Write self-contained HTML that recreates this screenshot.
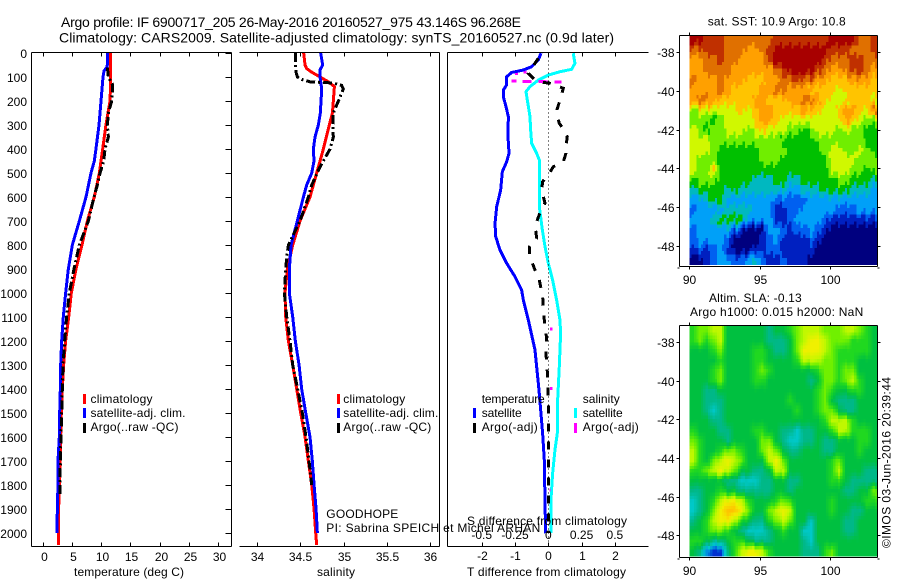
<!DOCTYPE html>
<html>
<head>
<meta charset="utf-8">
<title>Argo profile</title>
<style>
html,body{margin:0;padding:0;background:#fff;}
svg{display:block;}
text{font-family:"Liberation Sans",sans-serif;font-size:12px;fill:#000;}
</style>
</head>
<body>
<svg id="chart" width="900" height="580" viewBox="0 0 900 580" xmlns="http://www.w3.org/2000/svg">
<rect x="0" y="0" width="900" height="580" fill="#fff"/>
<g id="heat-layer"></g>
<g id="line-layer"></g>
<g id="axis-layer"></g>

<text x="61" y="27" style="font-size:14px" textLength="460" lengthAdjust="spacing">Argo profile: IF 6900717_205 26-May-2016 20160527_975 43.146S 96.268E</text>
<text x="59" y="42.5" style="font-size:14px" textLength="555" lengthAdjust="spacing">Climatology: CARS2009. Satellite-adjusted climatology: synTS_20160527.nc (0.9d later)</text>

<text x="74" y="576" textLength="110" lengthAdjust="spacing">temperature (deg C)</text>
<text x="317" y="576" textLength="38" lengthAdjust="spacing">salinity</text>
<text x="467" y="576" textLength="159" lengthAdjust="spacing">T difference from climatology</text>
<text x="467" y="525" textLength="160" lengthAdjust="spacing">S difference from climatology</text>

<g>
<rect x="83" y="394" width="3" height="10" fill="#ff0000"/>
<text x="90.5" y="403" textLength="62" lengthAdjust="spacing">climatology</text>
<rect x="83" y="408" width="3" height="10" fill="#0000ff"/>
<text x="90.5" y="417" textLength="95" lengthAdjust="spacing">satellite-adj. clim.</text>
<rect x="83" y="423" width="3" height="10" fill="#000"/>
<text x="90.5" y="431" textLength="88" lengthAdjust="spacing">Argo(..raw -QC)</text>
</g>
<g>
<rect x="337" y="394" width="3" height="10" fill="#ff0000"/>
<text x="343.3" y="403" textLength="62" lengthAdjust="spacing">climatology</text>
<rect x="337" y="408" width="3" height="10" fill="#0000ff"/>
<text x="343.3" y="417" textLength="95" lengthAdjust="spacing">satellite-adj. clim.</text>
<rect x="337" y="423" width="3" height="10" fill="#000"/>
<text x="343.3" y="431" textLength="88" lengthAdjust="spacing">Argo(..raw -QC)</text>
</g>
<g>
<text x="481.7" y="403" textLength="63" lengthAdjust="spacing">temperature</text>
<rect x="473" y="408" width="3" height="10" fill="#0000ff"/>
<text x="481.7" y="417" textLength="40" lengthAdjust="spacing">satellite</text>
<rect x="473" y="423" width="3" height="10" fill="#000"/>
<text x="481.7" y="431" textLength="56" lengthAdjust="spacing">Argo(-adj)</text>
<text x="582.7" y="403" textLength="37" lengthAdjust="spacing">salinity</text>
<rect x="574" y="408" width="3" height="10" fill="#00ffff"/>
<text x="582.7" y="417" textLength="40" lengthAdjust="spacing">satellite</text>
<rect x="574" y="423" width="3" height="10" fill="#ff00ff"/>
<text x="582.7" y="431" textLength="56" lengthAdjust="spacing">Argo(-adj)</text>
</g>

<text x="326.3" y="518" textLength="72" lengthAdjust="spacing">GOODHOPE</text>
<text x="326.3" y="532" textLength="214" lengthAdjust="spacing">PI: Sabrina SPEICH et Michel ARHAN</text>

<text x="707.7" y="25.5" textLength="138" lengthAdjust="spacing">sat. SST: 10.9 Argo: 10.8</text>
<text x="709" y="302" textLength="92.7" lengthAdjust="spacing">Altim. SLA: -0.13</text>
<text x="690" y="316" textLength="173.3" lengthAdjust="spacing">Argo h1000: 0.015 h2000: NaN</text>
<text transform="translate(890.5 548) rotate(-90)" x="0" y="0" textLength="171" lengthAdjust="spacing">©IMOS 03-Jun-2016 20:39:44</text>
</svg>

<script>
// ---------- profile data ----------
const depthTicks = [0,100,200,300,400,500,600,700,800,900,1000,1100,1200,1300,1400,1500,1600,1700,1800,1900,2000];
const tempTicks = [0,5,10,15,20,25,30];
const salTicks = [34,34.5,35,35.5,36];
const salTickLabels = ['34','34.5','35','35.5','36'];
const tDiffTicks = [-2,-1,0,1,2];
const sDiffTicks = [-0.5,-0.25,0,0.25,0.5];
const sDiffTickLabels = ['-0.5','-0.25','0','0.25','0.5'];

const tempClimDepth = [0,100,130,200,300,400,450,500,600,700,800,900,1000,1100,1200,1300,1400,1500,1600,1700,1800,1900,2000,2050];
const tempClim = [11.56,11.6,11.6,11.5,10.8,10.25,9.96,9.68,8.82,7.63,6.71,5.69,4.89,4.44,3.92,3.58,3.35,3.18,3.07,2.96,2.84,2.72,2.67,2.67];
const tempSatDepth = [0,50,60,75,100,200,300,400,450,500,600,700,800,900,1000,1100,1200,1300,1400,1500,1600,1700,1800,1900,2000];
const tempSat = [11.1,11.05,10.93,10.48,10.3,9.96,9.62,9.1,8.82,8.25,7.4,6.26,5.06,4.38,3.92,3.52,3.24,3.07,3.01,2.9,2.84,2.61,2.61,2.5,2.44];
const tempArgoDepth = [60,100,130,150,200,250,300,350,400,450,500,550,600,700,800,900,1000,1100,1200,1300,1400,1500,1600,1700,1800,1850];
const tempArgo = [11.05,11.22,11.9,11.96,11.79,11.22,11.05,11.22,10.65,10.42,9.8,9.34,8.76,7.8,6.26,5.35,4.55,4.09,3.75,3.47,3.35,3.24,3.12,3.01,2.96,2.96];

const salClimDepth = [0,50,65,80,100,120,140,200,250,300,400,450,500,600,700,800,900,1000,1100,1200,1300,1400,1500,1600,1700,1800,1900,2000,2050];
const salClim = [34.541,34.557,34.576,34.634,34.73,34.826,34.895,34.883,34.872,34.837,34.768,34.73,34.691,34.614,34.499,34.415,34.353,34.326,34.334,34.365,34.415,34.461,34.507,34.557,34.595,34.634,34.661,34.68,34.691];
const salSatDepth = [0,50,70,100,150,250,300,350,400,450,500,550,600,700,800,900,1000,1100,1200,1300,1400,1500,1600,1700,1800,1900,2000];
const salSat = [34.737,34.76,34.73,34.73,34.749,34.733,34.71,34.672,34.653,34.66,34.634,34.576,34.538,34.468,34.396,34.376,34.376,34.415,34.445,34.488,34.518,34.565,34.614,34.641,34.661,34.684,34.699];
const salArgoDepth = [0,50,80,100,110,120,125,135,150,200,250,300,350,400,450,480,550,600,700,800,850,900,1000,1100,1200,1300,1400,1500,1600,1700,1800];
const salArgo = [34.445,34.445,34.453,34.469,34.518,34.614,34.883,34.979,34.998,34.941,34.883,34.876,34.883,34.845,34.768,34.722,34.634,34.595,34.499,34.365,34.346,34.334,34.319,34.346,34.384,34.415,34.472,34.526,34.568,34.603,34.634];

const tDiffSatDepth = [1,29,57,71,81,99,133,154,182,224,265,349,418,453,494,571,640,710,765,821,876,932,988,1029,1112,1237,1404,1585,1696,1862,2001];
const tDiffSat = [-0.22,-0.3,-0.5,-0.75,-1.1,-1.25,-1.25,-1.35,-1.35,-1.27,-1.2,-1.21,-1.18,-1.25,-1.38,-1.43,-1.55,-1.6,-1.58,-1.45,-1.25,-1,-0.8,-0.75,-0.6,-0.4,-0.28,-0.17,-0.12,-0.1,-0.08];
const sDiffSatDepth = [1,43,68,78,92,113,140,161,196,265,321,376,418,446,501,640,736,806,876,946,1029,1112,1168,1307,1446,1585,1654,1751,1862,2001];
const sDiffSat = [0.1875,0.2,0.175,0.0875,0,-0.075,-0.1375,-0.1675,-0.1575,-0.1375,-0.1325,-0.125,-0.0875,-0.0675,-0.0675,-0.0675,-0.045,-0.025,0,0.0325,0.0625,0.0875,0.0925,0.0825,0.07,0.0675,0.05,0.0325,0.02,0.02];
const tDiffArgoDepth = [22,43,85,119,126,147,189,231,251,293,321,349,390,418,453,474,501,536,571,626,647,703,738,772,807,842,904,939,974,1015,1057,1112,1189,1251,1328,1446,1585,1723,1862,2001];
const tDiffArgo = [-0.3,-0.4,-0.6,-0.35,0.05,0.45,0.37,0.27,0.25,0.33,0.47,0.57,0.53,0.53,0.45,0.15,0.03,-0.17,-0.2,-0.1,-0.2,-0.35,-0.38,-0.35,-0.57,-0.57,-0.4,-0.28,-0.23,-0.17,-0.15,-0.12,-0.05,-0.07,-0.03,0,0,0,0,0];
const sDiffArgoDepth = [117,119,121,null,78,92,null,74,85,null,1151,1151,null,1397,1397,null,1820,1820];
const sDiffArgo = [-0.275,-0.1,0.1,null,-0.2375,-0.2375,null,-0.175,-0.175,null,0.0125,0.0325,null,0.0125,0.0325,null,0.01,0.015];

// ---------- map data ----------
const lonTicks = [90,95,100];
const latTicks = [-38,-40,-42,-44,-46,-48];
const sstLevels = [
[12,12,11,11,11,10,10,10,10,10,10,10,11,11,11,11,11,11,11,11,12,12,12,12,10,10,11],
[10,10,11,11,11,10,10,10,9,9,10,11,12,12,12,12,12,12,12,12,11,11,11,10,10,10,11],
[9,9,10,10,11,10,10,9,9,9,9,11,12,12,12,12,12,12,12,11,10,10,10,11,11,10,10],
[9,9,10,10,10,10,9,9,9,9,9,9,10,11,12,12,12,12,11,10,9,9,10,11,11,10,9],
[10,9,9,9,10,9,9,9,8,8,8,9,9,10,10,11,10,10,9,9,8,8,8,9,9,9,8],
[9,9,9,9,10,9,8,8,8,8,9,9,10,10,9,9,9,8,8,8,8,7,8,8,8,8,8],
[9,10,10,9,8,8,8,8,8,9,9,8,8,8,9,9,10,10,9,8,7,7,7,8,8,8,7],
[6,7,7,7,7,7,7,8,7,8,9,9,8,8,8,8,9,8,8,7,7,8,9,9,8,7,10],
[6,6,6,5,6,7,7,7,7,8,9,9,8,7,7,7,7,7,7,7,7,7,9,8,7,6,6],
[7,6,5,6,6,7,7,7,6,7,8,7,7,7,6,6,5,6,7,7,7,6,7,6,6,5,5],
[7,7,7,6,6,6,6,6,6,6,6,6,6,5,5,5,5,5,6,6,6,6,6,6,6,5,5],
[7,7,7,6,5,5,5,5,5,5,6,6,6,6,5,5,5,5,5,6,7,7,6,6,7,6,5],
[7,6,6,6,5,5,5,5,5,5,6,6,6,5,5,5,5,5,5,5,7,7,7,7,6,6,6],
[7,6,6,8,5,5,5,5,5,5,5,5,5,5,5,5,5,5,5,5,7,7,7,6,6,5,6],
[5,6,6,6,5,5,5,5,5,4,4,4,5,5,4,4,5,5,5,5,5,6,6,5,5,5,4],
[4,5,5,5,5,4,5,4,4,4,4,4,4,4,3,3,4,4,4,5,5,5,5,4,4,4,3],
[3,3,4,5,5,3,3,3,3,3,3,3,2,2,2,2,2,3,3,3,3,3,3,3,3,3,3],
[2,3,3,3,3,4,4,4,4,3,3,3,1,1,2,2,3,3,3,3,3,2,2,2,3,3,3],
[3,3,3,4,5,5,5,5,3,3,3,3,1,1,2,3,3,3,3,2,1,1,1,1,1,1,1],
[2,3,3,3,3,3,2,1,0,0,0,3,3,2,1,2,2,3,2,1,0,0,0,0,0,0,0],
[2,3,3,3,3,2,0,0,0,0,1,2,3,1,1,1,1,2,1,0,0,0,0,0,0,0,0],
[1,2,1,2,3,1,0,0,0,1,1,2,2,1,1,1,1,1,0,0,0,0,0,0,0,0,0],
[0,0,1,2,3,3,2,2,3,4,2,1,1,2,1,1,1,0,0,0,0,0,0,0,0,0,0]
];
const slaLevels = [
[5,6,6,7,7,4,4,4,4,4,4,3,4,4,5,6,7,7,7,6,6,6,7,7,6,5,4],
[5,6,5,6,7,4,4,4,4,4,4,3,3,3,4,6,7,8,8,7,6,6,6,5,5,5,4],
[4,4,4,5,6,4,4,4,4,5,5,4,3,3,4,6,8,8,8,7,6,5,5,5,5,5,4],
[4,4,4,4,5,4,4,4,4,5,5,4,4,4,4,5,7,7,7,6,6,5,5,5,4,4,4],
[4,4,4,5,6,4,4,4,4,5,6,5,4,4,4,4,4,4,5,6,6,5,6,6,4,4,4],
[4,4,4,5,6,4,4,4,4,5,5,4,4,4,4,4,4,3,4,6,6,5,6,7,5,4,4],
[4,4,3,3,4,4,4,4,4,4,4,4,4,4,4,4,4,4,5,6,5,4,4,5,5,4,4],
[4,4,3,3,3,4,4,4,4,4,4,4,4,4,5,4,4,4,5,6,4,3,3,3,4,4,4],
[4,4,3,2,3,4,4,4,4,4,4,4,4,4,4,5,4,4,5,6,6,4,3,3,4,4,4],
[4,4,4,3,3,4,4,4,4,4,4,4,4,4,4,4,4,4,4,5,7,7,7,5,4,4,4],
[5,4,4,4,3,3,4,4,4,5,5,4,4,3,3,2,3,3,4,4,5,7,7,5,5,5,4],
[6,5,4,4,4,3,4,4,4,4,6,6,4,3,2,2,3,3,4,3,3,4,4,4,5,5,4],
[7,5,4,4,5,6,6,5,4,4,6,7,6,4,3,3,4,4,4,3,3,4,4,4,5,4,4],
[7,5,4,6,7,8,7,6,4,4,4,7,8,6,4,4,4,4,4,4,5,6,4,4,4,4,4],
[5,5,6,7,8,7,6,4,4,3,3,4,7,7,4,4,4,4,4,4,5,7,4,4,4,3,3],
[4,4,4,4,4,3,3,2,2,2,3,3,4,4,3,3,4,4,4,4,5,5,4,3,3,3,3],
[3,3,4,4,5,4,4,3,3,3,3,3,4,4,3,4,4,4,4,4,4,4,3,3,4,4,6],
[2,3,4,5,7,8,8,7,5,4,4,4,5,6,5,4,4,4,4,4,5,4,4,4,4,5,5],
[2,3,4,6,8,9,9,8,6,4,4,6,7,8,7,4,4,4,4,4,5,4,4,3,3,4,4],
[3,4,5,7,8,8,7,5,4,3,3,5,6,7,6,4,4,2,4,4,4,4,3,3,4,4,4],
[4,4,5,6,6,5,4,3,2,2,2,3,4,5,4,4,2,2,4,4,4,4,3,3,4,4,4],
[5,5,4,3,3,4,5,5,4,3,3,3,4,4,4,4,3,2,4,4,4,4,4,4,4,4,4],
[4,3,1,0,0,3,5,7,8,8,7,5,4,4,4,4,3,3,3,5,6,4,4,4,4,4,4]
];

// ---------- axis functions ----------
const NS = 'http://www.w3.org/2000/svg';
const yDepth = d => 53 + d * 0.24;
const xTemp = t => 42.7 + t * 5.853;
const xSal = s => 256.7 + (s - 34) * 86.8;
const xTDiff = t => 548.3 + t * 33.3;
const xSDiff = s => 548.3 + s * 133.2;
const xLon = lon => 689.3 + (lon - 90) * 14.1;
const ySstLat = lat => 52.3 + (-38 - lat) * 19.34;
const ySlaLat = lat => 342 + (-38 - lat) * 19.33;

const sstPalette = ['#00007f','#0020c0','#0060f0','#00a0f8','#00b8c0','#00c000','#70ee00','#d0f800','#ffc400','#ffa000','#e07000','#c03000','#a80000'];
const slaPalette = ['#0030d0','#0090e0','#00c8c8','#00b888','#00c040','#20d820','#70f000','#c0f800','#f0f000','#ffc000'];

const heatLayer = document.getElementById('heat-layer');
const lineLayer = document.getElementById('line-layer');
const axisLayer = document.getElementById('axis-layer');

function drawLine(x1, y1, x2, y2, name, stroke) {
  const el = document.createElementNS(NS, 'line');
  
  
  el.setAttribute('x1', x1);
  el.setAttribute('y1', y1);
  el.setAttribute('x2', x2);
  el.setAttribute('y2', y2);
  el.setAttribute('stroke', stroke || '#000');
  el.setAttribute('stroke-width', '1');
  el.setAttribute('shape-rendering', 'crispEdges');
  axisLayer.appendChild(el);
}

function drawLabel(x, y, str, anchor, name) {
  const el = document.createElementNS(NS, 'text');
  
  
  el.setAttribute('x', x);
  el.setAttribute('y', y);
  el.setAttribute('text-anchor', anchor);
  el.textContent = str;
  axisLayer.appendChild(el);
}

function drawSeries(values, depths, xFn, color, dash, name) {
  let d = '';
  let pen = false;
  values.forEach((v, i) => {
    if (v === null) { pen = false; return; }
    d += (pen ? 'L' : 'M') + xFn(v).toFixed(2) + ' ' + yDepth(depths[i]).toFixed(2);
    pen = true;
  });
  const el = document.createElementNS(NS, 'path');
  
  
  el.setAttribute('d', d);
  el.setAttribute('fill', 'none');
  el.setAttribute('stroke', color);
  el.setAttribute('stroke-width', '3');
  el.setAttribute('shape-rendering', 'crispEdges');
  if (dash) el.setAttribute('stroke-dasharray', dash);
  lineLayer.appendChild(el);
}

function sampleLevels(levels, rowPos, colPos) {
  const rows = levels.length;
  const cols = levels[0].length;
  const r = Math.max(0, Math.min(rows - 1, rowPos - 0.5));
  const c = Math.max(0, Math.min(cols - 1, colPos - 0.5));
  const r0 = Math.floor(r), c0 = Math.floor(c);
  const r1 = Math.min(rows - 1, r0 + 1), c1 = Math.min(cols - 1, c0 + 1);
  const fr = r - r0, fc = c - c0;
  return (levels[r0][c0] * (1 - fc) + levels[r0][c1] * fc) * (1 - fr) +
         (levels[r1][c0] * (1 - fc) + levels[r1][c1] * fc) * fr;
}

function paletteColor(palette, v, smooth) {
  const lim = palette.length - 1;
  const t = Math.max(0, Math.min(lim, v));
  if (!smooth) return palette[Math.round(t)];
  const i = Math.min(lim - 1, Math.floor(t));
  const f = t - i;
  const a = parseInt(palette[i].slice(1), 16);
  const b = parseInt(palette[i + 1].slice(1), 16);
  const mix = s => Math.round(((a >> s) & 255) * (1 - f) + ((b >> s) & 255) * f);
  return 'rgb(' + mix(16) + ',' + mix(8) + ',' + mix(0) + ')';
}

function drawHeatmap(levels, palette, yLat, latTop, latBottom, lonEnd, smooth, jag, name) {
  const rows = levels.length;
  const cols = levels[0].length;
  const sub = 3;
  for (let i = 0; i < rows * sub; i++) {
    for (let j = 0; j < cols * sub; j++) {
      const colPos = (j + 0.5) / sub;
      const rowPos = (i + 0.5) / sub + ((j % 4) / 4 - 0.375) * jag;
      const v = sampleLevels(levels, rowPos, colPos);
      const x0 = xLon(90 + (lonEnd - 90) * j / (cols * sub));
      const x1 = xLon(90 + (lonEnd - 90) * (j + 1) / (cols * sub));
      const y0 = yLat(latTop + (latBottom - latTop) * i / (rows * sub));
      const y1 = yLat(latTop + (latBottom - latTop) * (i + 1) / (rows * sub));
      const el = document.createElementNS(NS, 'rect');
      
      
      el.setAttribute('x', x0.toFixed(2));
      el.setAttribute('y', y0.toFixed(2));
      el.setAttribute('width', (x1 - x0 + 0.4).toFixed(2));
      el.setAttribute('height', (y1 - y0 + 0.4).toFixed(2));
      el.setAttribute('fill', paletteColor(palette, v, smooth));
      el.setAttribute('shape-rendering', 'crispEdges');
      heatLayer.appendChild(el);
    }
  }
}

// ---------- heatmaps ----------
drawHeatmap(sstLevels, sstPalette, ySstLat, -37.12, -48.97, 103.33, false, 0.7, 'sst-cell');
drawHeatmap(slaLevels, slaPalette, ySlaLat, -37.15, -49.07, 103.33, true, 0.3, 'sla-cell');

// ---------- series ----------
drawSeries(tempClim, tempClimDepth, xTemp, '#ff0000', null, 'temperature-climatology-line');
drawSeries(tempSat, tempSatDepth, xTemp, '#0000ff', null, 'temperature-satellite-line');
drawSeries(tempArgo, tempArgoDepth, xTemp, '#000000', '9 3 2 3', 'temperature-argo-line');
drawSeries(salClim, salClimDepth, xSal, '#ff0000', null, 'salinity-climatology-line');
drawSeries(salSat, salSatDepth, xSal, '#0000ff', null, 'salinity-satellite-line');
drawSeries(salArgo, salArgoDepth, xSal, '#000000', '9 3 2 3', 'salinity-argo-line');
drawSeries(sDiffSat, sDiffSatDepth, xSDiff, '#00ffff', null, 's-difference-satellite-line');
drawSeries(sDiffArgo, sDiffArgoDepth, xSDiff, '#ff00ff', '5 6 9 7 10 6 8 20', 's-difference-argo-line');
drawSeries(tDiffSat, tDiffSatDepth, xTDiff, '#0000ff', null, 't-difference-satellite-line');
drawSeries(tDiffArgo, tDiffArgoDepth, xTDiff, '#000000', '8 10', 't-difference-argo-line');

// ---------- profile axes ----------
const bottomY = 546.5, topY = 52.5;
drawLine(31.5, topY, 231.5, topY, 'temperature-axis-top');
drawLine(31.5, bottomY, 231.5, bottomY, 'temperature-axis-bottom');
drawLine(31.5, topY, 31.5, bottomY, 'depth-axis');
drawLine(231.5, topY, 231.5, bottomY, 'temperature-axis-right');
drawLine(239.5, topY, 439.5, topY, 'salinity-axis-top');
drawLine(239.5, bottomY, 439.5, bottomY, 'salinity-axis-bottom');
drawLine(439.5, topY, 439.5, bottomY, 'salinity-axis-right');
drawLine(447.5, topY, 648.5, topY, 'difference-axis-top');
drawLine(447.5, bottomY, 648.5, bottomY, 'difference-axis-bottom');
drawLine(447.5, topY, 447.5, bottomY, 'difference-axis-left');

depthTicks.forEach(d => {
  const y = Math.round(yDepth(d)) + 0.5;
  drawLine(225.5, y, 231.5, y, 'depth-tick');
  drawLabel(27, y + 4.5, String(d), 'end', 'depth-tick-label');
});
tempTicks.forEach(t => {
  const x = Math.round(xTemp(t)) + 0.5;
  drawLine(x, topY, x, topY + 4, 'temperature-tick');
  drawLine(x, bottomY - 4, x, bottomY, 'temperature-tick');
  drawLabel(x + 1, 561, String(t), 'middle', 'temperature-tick-label');
});
salTicks.forEach((s, i) => {
  const x = Math.round(xSal(s)) + 0.5;
  drawLine(x, topY, x, topY + 4, 'salinity-tick');
  drawLine(x, bottomY - 4, x, bottomY, 'salinity-tick');
  drawLabel(x, 561, salTickLabels[i], 'middle', 'salinity-tick-label');
});
tDiffTicks.forEach(t => {
  const x = Math.round(xTDiff(t)) + 0.5;
  drawLine(x, topY, x, topY + 4, 't-difference-tick');
  drawLine(x, bottomY - 4, x, bottomY, 't-difference-tick');
  drawLabel(x, 560, String(t), 'middle', 't-difference-tick-label');
});
sDiffTicks.forEach((s, i) => {
  drawLabel(xSDiff(s), 539, sDiffTickLabels[i], 'middle', 's-difference-tick-label');
});
const zeroLine = document.createElementNS(NS, 'line');


zeroLine.setAttribute('x1', Math.round(xTDiff(0)) + 0.5);
zeroLine.setAttribute('x2', Math.round(xTDiff(0)) + 0.5);
zeroLine.setAttribute('y1', topY);
zeroLine.setAttribute('y2', bottomY);
zeroLine.setAttribute('stroke', '#000');
zeroLine.setAttribute('stroke-dasharray', '1 3');
zeroLine.setAttribute('shape-rendering', 'crispEdges');
axisLayer.appendChild(zeroLine);

// ---------- map axes ----------
function drawMapAxes(top, bottom, yLat, prefix) {
  const left = 679.5, right = 877.5;
  drawLine(left, top, right, top, prefix + '-frame-top');
  drawLine(left, bottom, right, bottom, prefix + '-frame-bottom');
  drawLine(left, top, left, bottom, prefix + '-frame-left');
  drawLine(right, top, right, bottom, prefix + '-frame-right');
  drawLine(right, bottom + 1.5, right + 2, bottom + 1.5, prefix + '-corner-tick');
  drawLine(left - 2, bottom + 1.5, left, bottom + 1.5, prefix + '-corner-tick');
  latTicks.forEach(lat => {
    const y = Math.round(yLat(lat)) + 0.5;
    drawLine(left - 3, y, left, y, prefix + '-lat-tick');
    drawLine(right, y, right + 3, y, prefix + '-lat-tick');
    drawLabel(674.5, y + 4.5, String(lat), 'end', prefix + '-lat-tick-label');
  });
  lonTicks.forEach(lon => {
    const x = Math.round(xLon(lon)) + 0.5;
    drawLine(x, top - 3, x, top, prefix + '-lon-tick');
    drawLine(x, bottom, x, bottom + 3, prefix + '-lon-tick');
    drawLabel(x, bottom + 17.5, String(lon), 'middle', prefix + '-lon-tick-label');
  });
}
drawMapAxes(35.5, 266.5, ySstLat, 'sst-map');
drawMapAxes(325.5, 557.5, ySlaLat, 'sla-map');
</script>
</body>
</html>
